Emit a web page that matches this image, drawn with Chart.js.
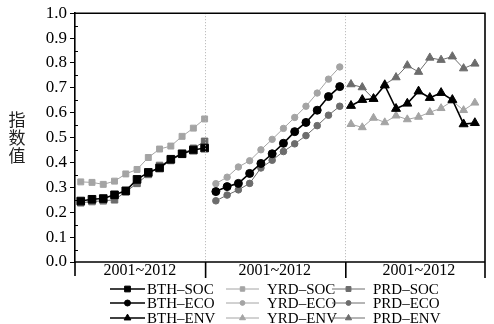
<html lang="zh">

<head>
    <meta charset="UTF-8">
    <title>指数值</title>
    <style>
        body {
            margin: 0;
            padding: 0;
            background-color: #ffffff;
        }
    </style>
</head>

<body>
    <canvas id="indexChart" width="494" height="324"></canvas>
    <script src="https://cdn.jsdelivr.net/npm/chart.js"></script>
    <script>
        // Three groups, each 2001~2012 (12 years)
        const panelLabels = ['2001~2012', '2001~2012', '2001~2012'];
        const yearsPerPanel = 12;
        const yTicks = [0.0, 0.1, 0.2, 0.3, 0.4, 0.5, 0.6, 0.7, 0.8, 0.9, 1.0];

        // Social index (first group)
        const bthSoc = [0.245, 0.252, 0.255, 0.270, 0.286, 0.332, 0.360, 0.378, 0.413, 0.435, 0.450, 0.458];
        const yrdSoc = [0.322, 0.320, 0.312, 0.325, 0.354, 0.372, 0.420, 0.454, 0.466, 0.505, 0.538, 0.575];
        const prdSoc = [0.238, 0.243, 0.246, 0.250, 0.282, 0.316, 0.352, 0.388, 0.408, 0.435, 0.457, 0.485];

        // Economic index (second group)
        const bthEco = [0.283, 0.303, 0.316, 0.356, 0.396, 0.435, 0.477, 0.524, 0.561, 0.610, 0.665, 0.705];
        const yrdEco = [0.315, 0.341, 0.382, 0.407, 0.451, 0.493, 0.537, 0.581, 0.626, 0.679, 0.735, 0.784];
        const prdEco = [0.246, 0.269, 0.290, 0.316, 0.378, 0.409, 0.444, 0.475, 0.508, 0.548, 0.590, 0.626];

        // Environmental index (third group)
        const bthEnv = [0.628, 0.652, 0.656, 0.710, 0.616, 0.637, 0.686, 0.660, 0.680, 0.652, 0.554, 0.559];
        const yrdEnv = [0.554, 0.541, 0.579, 0.561, 0.588, 0.573, 0.583, 0.602, 0.618, 0.647, 0.610, 0.640];
        const prdEnv = [0.714, 0.702, 0.656, 0.714, 0.742, 0.790, 0.764, 0.821, 0.812, 0.826, 0.778, 0.797];

        const seriesNames = [
            'BTH–SOC', 'YRD–SOC', 'PRD–SOC',
            'BTH–ECO', 'YRD–ECO', 'PRD–ECO',
            'BTH–ENV', 'YRD–ENV', 'PRD–ENV'
        ];

        const BLACK = '#000000';
        const LIGHT = '#a4a4a4';
        const DARK = '#6c6c6c';
        const SERIF = "'Liberation Serif', 'Times New Roman', serif";

        Chart.defaults.font.family = SERIF;

        // x position of each year: group * 12 + year index
        function toPoints(values, group) {
            return values.map((v, i) => ({ x: group * yearsPerPanel + i, y: v }));
        }

        function makeSet(label, values, group, color, style, radius, width) {
            return {
                label: label,
                data: toPoints(values, group),
                borderColor: color,
                backgroundColor: color,
                borderWidth: width,
                pointStyle: style,
                pointRadius: radius,
                pointBorderWidth: 1,
                pointBorderColor: color,
                pointBackgroundColor: color,
                tension: 0
            };
        }

        const datasets = [
            makeSet(seriesNames[0], bthSoc, 0, BLACK, 'rect', 5.4, 1.6),
            makeSet(seriesNames[1], yrdSoc, 0, LIGHT, 'rect', 4.2, 1),
            makeSet(seriesNames[2], prdSoc, 0, DARK, 'rect', 4.6, 1),
            makeSet(seriesNames[3], bthEco, 1, BLACK, 'circle', 4, 1.6),
            makeSet(seriesNames[4], yrdEco, 1, LIGHT, 'circle', 3.2, 1),
            makeSet(seriesNames[5], prdEco, 1, DARK, 'circle', 3.3, 1),
            makeSet(seriesNames[6], bthEnv, 2, BLACK, 'triangle', 5.2, 1.6),
            makeSet(seriesNames[7], yrdEnv, 2, LIGHT, 'triangle', 4.6, 1),
            makeSet(seriesNames[8], prdEnv, 2, DARK, 'triangle', 4.8, 1)
        ];

        // group boundaries on the x scale
        const xMin = -0.51;
        const xMax = 35.9;
        const splits = [xMin, 11.0, 23.45, xMax];

        // frame, group separators, group labels, y title and legend
        const panelPlugin = {
            id: 'panelPlugin',
            afterDraw(chart) {
                const ctx = chart.ctx;
                const area = chart.chartArea;
                const xs = chart.scales.x;
                const ys = chart.scales.y;
                const px = splits.map(v => xs.getPixelForValue(v));
                const bandBottom = area.bottom + 16;

                ctx.save();

                // dotted separators inside the plot
                ctx.strokeStyle = '#b0b0b0';
                ctx.lineWidth = 1;
                ctx.setLineDash([1, 2]);
                [px[1], px[2]].forEach(x => {
                    ctx.beginPath();
                    ctx.moveTo(Math.round(x) + 0.5, area.top);
                    ctx.lineTo(Math.round(x) + 0.5, area.bottom);
                    ctx.stroke();
                });
                ctx.setLineDash([]);

                // box: top, right, bottom axis
                ctx.strokeStyle = BLACK;
                ctx.lineWidth = 1.6;
                ctx.beginPath();
                ctx.moveTo(area.left, area.top);
                ctx.lineTo(area.right, area.top);
                ctx.lineTo(area.right, bandBottom);
                ctx.moveTo(area.left, area.bottom);
                ctx.lineTo(area.right, area.bottom);
                ctx.moveTo(area.left, area.bottom);
                ctx.lineTo(area.left, bandBottom - 2);
                ctx.stroke();

                // group ticks under the axis
                ctx.beginPath();
                [px[1], px[2]].forEach(x => {
                    ctx.moveTo(x + 1, area.bottom);
                    ctx.lineTo(x + 1, bandBottom);
                });
                ctx.stroke();

                // minor y ticks pointing inward
                ctx.lineWidth = 1;
                ctx.beginPath();
                for (let v = 0.05; v < 1; v += 0.1) {
                    const y = Math.round(ys.getPixelForValue(v)) + 0.5;
                    ctx.moveTo(area.left, y);
                    ctx.lineTo(area.left + 3, y);
                }
                ctx.stroke();

                // group labels
                ctx.fillStyle = BLACK;
                ctx.font = '16px ' + SERIF;
                ctx.textAlign = 'center';
                ctx.textBaseline = 'middle';
                panelLabels.forEach((lab, i) => {
                    ctx.fillText(lab, (px[i] + px[i + 1]) / 2 + (i === 2 ? 4 : 0), area.bottom + 9);
                });

                // y title, characters stacked upright
                ctx.font = '17px "Noto Sans CJK SC"';
                ctx.fillStyle = '#222';
                const title = '指数值';
                for (let i = 0; i < title.length; i++) {
                    ctx.fillText(title[i], 17, 120 + i * 18);
                }

                // legend, three columns
                const colX = [110, 226, 332];
                const rowY = [289, 303, 318];
                ctx.font = '15px ' + SERIF;
                ctx.textAlign = 'left';
                datasets.forEach((ds, i) => {
                    const col = i % 3;
                    const row = Math.floor(i / 3);
                    const x0 = colX[col];
                    const y = rowY[row];
                    const len = col === 0 ? 35 : 33;
                    ctx.strokeStyle = ds.borderColor;
                    ctx.lineWidth = ds.borderWidth;
                    ctx.beginPath();
                    ctx.moveTo(x0, y);
                    ctx.lineTo(x0 + len, y);
                    ctx.stroke();
                    ctx.fillStyle = ds.backgroundColor;
                    ctx.lineWidth = 1;
                    Chart.helpers.drawPoint(ctx, {
                        pointStyle: ds.pointStyle,
                        radius: ds.pointRadius * 0.75,
                        rotation: 0,
                        borderWidth: 1
                    }, x0 + len / 2, y);
                    ctx.fillStyle = BLACK;
                    ctx.fillText(ds.label, x0 + len + (col === 0 ? 2 : 8), y + 1);
                });

                ctx.restore();
            }
        };

        new Chart(document.getElementById('indexChart').getContext('2d'), {
            type: 'line',
            data: { datasets: datasets },
            options: {
                responsive: false,
                animation: false,
                layout: {
                    padding: { top: 10, right: 9, bottom: 62, left: 0 }
                },
                plugins: {
                    legend: { display: false },
                    tooltip: { enabled: false }
                },
                scales: {
                    x: {
                        type: 'linear',
                        min: xMin,
                        max: xMax,
                        display: false
                    },
                    y: {
                        min: 0,
                        max: 1,
                        afterFit(scale) {
                            scale.width = 75;
                        },
                        afterBuildTicks(scale) {
                            scale.ticks = yTicks.map(v => ({ value: v }));
                        },
                        border: { display: true, color: BLACK, width: 1.6 },
                        grid: {
                            drawOnChartArea: false,
                            drawTicks: true,
                            tickLength: 5,
                            color: BLACK,
                            lineWidth: 1
                        },
                        ticks: {
                            padding: 3,
                            color: BLACK,
                            font: { family: SERIF, size: 17 },
                            callback: v => v.toFixed(1)
                        }
                    }
                }
            },
            plugins: [panelPlugin]
        });
    </script>
</body>

</html>
